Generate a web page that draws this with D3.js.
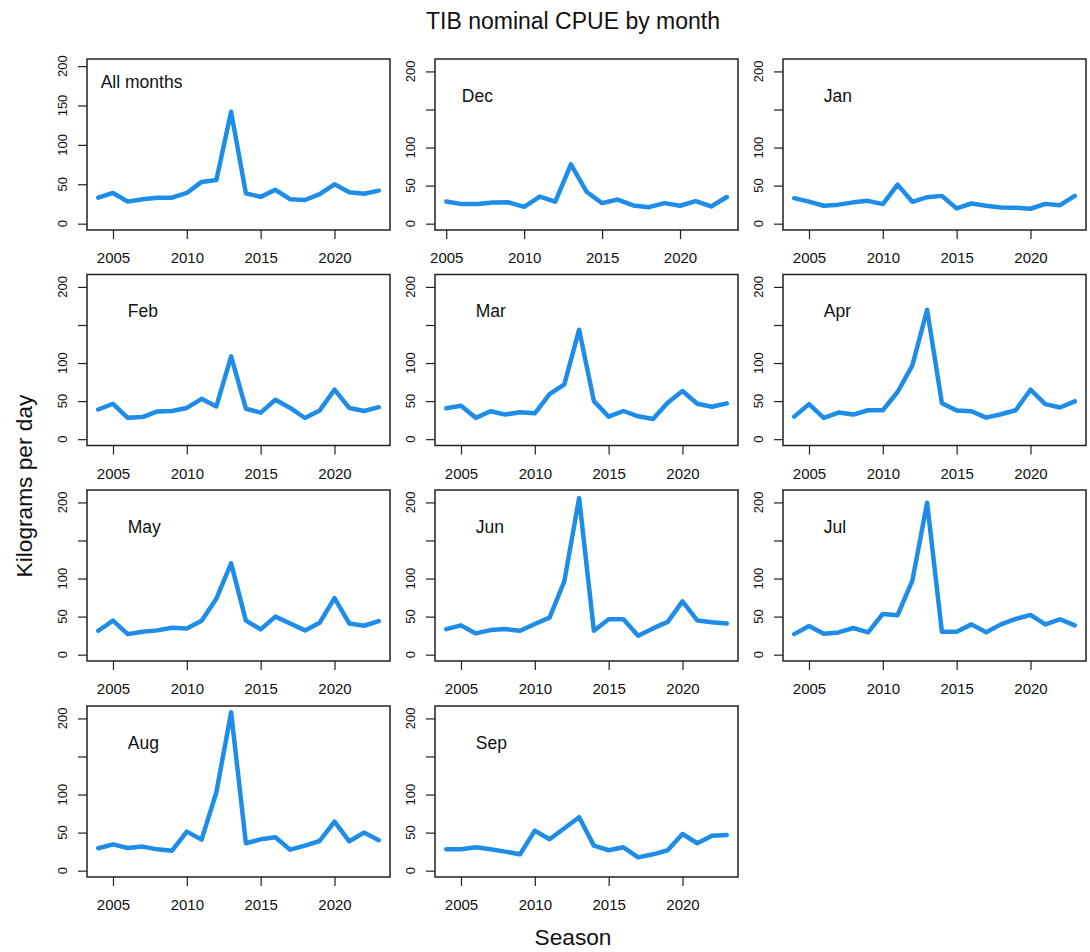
<!DOCTYPE html>
<html>
<head>
<meta charset="utf-8">
<script src="https://cdn.jsdelivr.net/npm/d3@7"></script>
<style>
  body { margin: 0; background: #fff; }
  svg { display: block; }
  text { font-family: "Liberation Sans", Arial, Helvetica, sans-serif; fill: #111; }
</style>
</head>
<body>
<svg id="chart" width="1090" height="952"></svg>
<script>
// Seasons covered by each series
const seasons2004 = [2004, 2005, 2006, 2007, 2008, 2009, 2010, 2011, 2012, 2013,
                     2014, 2015, 2016, 2017, 2018, 2019, 2020, 2021, 2022, 2023];
const seasons2005 = [2005, 2006, 2007, 2008, 2009, 2010, 2011, 2012, 2013,
                     2014, 2015, 2016, 2017, 2018, 2019, 2020, 2021, 2022, 2023];

// Nominal CPUE (kg per day)
const cpueAll = [33, 39, 28, 31, 33, 33, 39, 53, 55.5, 142, 38.5, 34, 43, 31, 30, 37.5, 50, 40, 38, 42];
const cpueDec = [29, 25.7, 25.7, 27.8, 28, 22, 35.6, 29, 78, 42, 27, 31.7, 24, 21.7, 27, 23.5, 29.6, 22.6, 35];
const cpueJan = [33.5, 29, 23.5, 25, 28, 30, 25.7, 51.3, 28.7, 34.8, 36.5, 20, 26.5, 23.5, 21.3, 21, 19.6, 26, 24.3, 36.5];
const cpueFeb = [39, 46.5, 28, 29, 36.5, 37, 41, 53, 43, 108.7, 40, 34.8, 51.7, 41, 27.8, 37.8, 65, 41, 37, 42];
const cpueMar = [40.7, 44, 28, 36.7, 32.3, 35.4, 34, 59.3, 72, 143.8, 50, 29.6, 37, 30, 26.5, 47.8, 63.3, 46.5, 42.5, 47];
const cpueApr = [29.6, 46, 27.9, 35, 32.3, 38, 38, 62, 97, 170, 47.3, 37.6, 36.7, 28.3, 32.7, 38, 65, 46, 41.6, 49.6];
const cpueMay = [31.4, 44.7, 27, 30, 31.9, 35.4, 34.5, 44.7, 73.5, 120, 44.7, 33.2, 50, 41, 31.9, 42, 74.3, 41, 38, 44];
const cpueJun = [33.6, 38.5, 27.9, 32.3, 33.6, 31.4, 40.3, 48.7, 96.5, 205.8, 31.4, 46.5, 46.5, 24.8, 34.5, 43, 70, 45, 42.5, 41];
const cpueJul = [27, 37.6, 27.4, 29.2, 35, 29.2, 53.5, 51.8, 97.3, 199.6, 30, 30, 39.8, 29.6, 39.8, 46.9, 52.2, 39.8, 46.5, 38.5];
const cpueAug = [29.4, 34.6, 29.8, 31.6, 28, 26.3, 51.3, 40.8, 103, 208, 36, 41.2, 43.9, 27.6, 32.9, 39, 64.5, 38.6, 50, 40];
const cpueSep = [28, 28, 30.7, 28, 25, 21.5, 52.6, 41.2, 55.7, 70.2, 32.9, 26.8, 30.7, 17.5, 21.5, 26.8, 48.2, 36, 46, 47];

const panelLabels = ["All months", "Dec", "Jan", "Feb", "Mar", "Apr", "May", "Jun", "Jul", "Aug", "Sep"];
const xTickValues = [2005, 2010, 2015, 2020];
const yTickValues = [0, 50, 100, 150, 200];

// Upper y limits: the combined panel has its own, monthly panels share the largest monthly value
const yLimitCombined = 201;
const yLimitMonthly = d3.max([cpueDec, cpueJan, cpueFeb, cpueMar, cpueApr, cpueMay,
                              cpueJun, cpueJul, cpueAug, cpueSep].flat());

const panels = [
  { label: panelLabels[0],  seasons: seasons2004, values: cpueAll, yMax: yLimitCombined, combined: true },
  { label: panelLabels[1],  seasons: seasons2005, values: cpueDec, yMax: yLimitMonthly },
  { label: panelLabels[2],  seasons: seasons2004, values: cpueJan, yMax: yLimitMonthly },
  { label: panelLabels[3],  seasons: seasons2004, values: cpueFeb, yMax: yLimitMonthly },
  { label: panelLabels[4],  seasons: seasons2004, values: cpueMar, yMax: yLimitMonthly },
  { label: panelLabels[5],  seasons: seasons2004, values: cpueApr, yMax: yLimitMonthly },
  { label: panelLabels[6],  seasons: seasons2004, values: cpueMay, yMax: yLimitMonthly },
  { label: panelLabels[7],  seasons: seasons2004, values: cpueJun, yMax: yLimitMonthly },
  { label: panelLabels[8],  seasons: seasons2004, values: cpueJul, yMax: yLimitMonthly },
  { label: panelLabels[9],  seasons: seasons2004, values: cpueAug, yMax: yLimitMonthly },
  { label: panelLabels[10], seasons: seasons2004, values: cpueSep, yMax: yLimitMonthly }
];

// Grid geometry
const colLeft = [87, 435, 783];
const rowTop = [59, 274.5, 490, 706];
const plotW = 303, plotH = 171;
const lineColor = "#1e8de8";
const inkColor = "#222";
const xLabelSize = 15, yLabelSize = 13, panelLabelSize = 17.5;

const svg = d3.select("#chart");

svg.append("text")
  .attr("x", 573).attr("y", 29)
  .attr("text-anchor", "middle")
  .style("font-size", "23px")
  .text("TIB nominal CPUE by month");

svg.append("text")
  .attr("x", 573).attr("y", 945)
  .attr("text-anchor", "middle")
  .style("font-size", "22.7px")
  .text("Season");

svg.append("text")
  .attr("transform", "translate(31.5,486) rotate(-90)")
  .attr("text-anchor", "middle")
  .style("font-size", "22.7px")
  .text("Kilograms per day");

panels.forEach((p, i) => {
  const left = colLeft[i % 3];
  const top = rowTop[Math.floor(i / 3)];
  const bottom = top + plotH;

  // 4% padding on both ends of each axis
  const [x0, x1] = d3.extent(p.seasons);
  const xPad = (x1 - x0) * 0.04;
  const x = d3.scaleLinear().domain([x0 - xPad, x1 + xPad]).range([left, left + plotW]);
  const y = d3.scaleLinear().domain([-0.04 * p.yMax, 1.04 * p.yMax]).range([bottom, top]);

  const g = svg.append("g");

  // bottom axis
  const xAxis = g.append("g")
    .attr("transform", `translate(0,${bottom})`)
    .call(d3.axisBottom(x).tickValues(xTickValues).tickSizeInner(9).tickSizeOuter(0).tickFormat(d3.format("d")));
  xAxis.select(".domain").remove();
  xAxis.selectAll(".tick line").attr("stroke", inkColor).attr("stroke-width", 1.2);
  xAxis.selectAll(".tick text")
    .attr("y", 33).attr("dy", null)
    .style("font-size", xLabelSize + "px")
    .style("font-family", '"Liberation Sans", Arial, sans-serif')
    .attr("fill", "#111");

  // left axis: ticks from the axis generator, rotated labels drawn separately
  const yAxis = g.append("g")
    .attr("transform", `translate(${left},0)`)
    .call(d3.axisLeft(y).tickValues(yTickValues).tickSizeInner(9).tickSizeOuter(0).tickFormat(""));
  yAxis.select(".domain").remove();
  yAxis.selectAll(".tick line").attr("stroke", inkColor).attr("stroke-width", 1.2);

  // labels are skipped when they would crowd the previously drawn one
  const minGap = 17;
  let lastPos = null, lastHalf = 0;
  yTickValues.forEach(v => {
    const t = g.append("text")
      .attr("transform", `translate(${left - 20.5},${y(v)}) rotate(-90)`)
      .attr("text-anchor", "middle")
      .style("font-size", yLabelSize + "px")
      .text(v);
    const half = t.node().getComputedTextLength() / 2;
    const pos = y(v);
    if (lastPos !== null && (lastPos - pos) - (lastHalf + half) < minGap) {
      t.remove();
    } else {
      lastPos = pos; lastHalf = half;
    }
  });

  // series line
  const line = d3.line()
    .x((d, k) => x(p.seasons[k]))
    .y(d => y(d));
  g.append("path")
    .datum(p.values)
    .attr("d", line)
    .attr("fill", "none")
    .attr("stroke", lineColor)
    .attr("stroke-width", 4.5)
    .attr("stroke-linejoin", "round")
    .attr("stroke-linecap", "round");

  // frame
  g.append("rect")
    .attr("x", left).attr("y", top)
    .attr("width", plotW).attr("height", plotH)
    .attr("fill", "none")
    .attr("stroke", inkColor)
    .attr("stroke-width", 1.5);

  // panel label
  g.append("text")
    .attr("x", p.combined ? left + 13.7 : x(2006))
    .attr("y", p.combined ? top + 29.3 : top + 42.5)
    .style("font-size", panelLabelSize + "px")
    .text(p.label);
});
</script>
</body>
</html>
